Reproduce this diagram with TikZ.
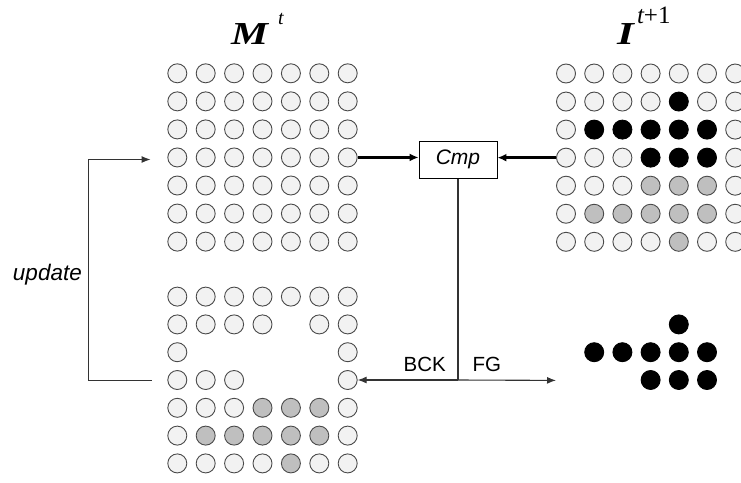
\documentclass[tikz,border=0pt]{standalone}
\usepackage{fontspec}
\setmainfont{Liberation Serif}
\setsansfont{Liberation Sans}
\usetikzlibrary{arrows.meta}
\definecolor{cellfill}{HTML}{F2F2F2}
\definecolor{cellline}{HTML}{4A4A4A}
\definecolor{cellgray}{HTML}{BFBFBF}
\definecolor{linecol}{HTML}{333333}
\newcommand\mygrid[6]{% name, x0, y0, dx, dy, spec
  \foreach \row/\spec in {#6} {%
    \foreach \kind [count=\col] in \spec {%
      \if n\kind\else
        \node[cell\kind] (#1-\row-\col) at ({#2+(\col-1)*#4},{#3+(\row-1)*#5}) {};
      \fi
    }%
  }%
}
\begin{document}
\begin{tikzpicture}[x=1pt,y=-1pt,
  cellbase/.style={circle, minimum size=19pt, inner sep=0pt, line width=0.9pt},
  cellw/.style={cellbase, draw=cellline, fill=cellfill},
  cellg/.style={cellbase, draw=cellline, fill=cellgray},
  cellk/.style={cellbase, draw=black, fill=black},
  thickarrow/.style={line width=2.6pt, draw=black, -{Latex[length=9pt,width=8pt]}},
  thinarrow/.style={line width=1.1pt, draw=linecol, -{Latex[length=9pt,width=7pt]}},
  thinline/.style={line width=1.1pt, draw=linecol},
  label/.style={font=\sffamily\fontsize{20.5}{20.5}\selectfont, inner sep=0pt},
  title/.style={inner sep=0pt, anchor=base west}
]
\useasboundingbox (0,0) rectangle (741,482);

% titles
\node[title] (Mt) at (231,44) {\scalebox{1.3}[1]{\fontsize{32}{32}\selectfont\bfseries\itshape M}\hspace{10pt}\raisebox{20pt}{\fontsize{20}{20}\selectfont\itshape t}};
\node[title] (It) at (617,44) {\scalebox{1.35}[1]{\fontsize{32}{32}\selectfont\bfseries\itshape I}\hspace{3pt}\raisebox{20.5pt}{\fontsize{25}{25}\selectfont\itshape t\upshape +1}};

% model grid M^t
\mygrid{M}{177.3}{73.3}{28.4}{28.05}{
  1/{w,w,w,w,w,w,w}, 2/{w,w,w,w,w,w,w}, 3/{w,w,w,w,w,w,w},
  4/{w,w,w,w,w,w,w}, 5/{w,w,w,w,w,w,w}, 6/{w,w,w,w,w,w,w},
  7/{w,w,w,w,w,w,w}}
% updated background grid
\mygrid{B}{177.3}{296.6}{28.4}{27.8}{
  1/{w,w,w,w,w,w,w}, 2/{w,w,w,w,n,w,w}, 3/{w,n,n,n,n,n,w},
  4/{w,w,w,n,n,n,w}, 5/{w,w,w,g,g,g,w}, 6/{w,g,g,g,g,g,w},
  7/{w,w,w,w,g,w,w}}
% image grid I^{t+1}
\mygrid{I}{566}{73.5}{28.2}{28.05}{
  1/{w,w,w,w,w,w,w}, 2/{w,w,w,w,k,w,w}, 3/{w,k,k,k,k,k,w},
  4/{w,w,w,k,k,k,w}, 5/{w,w,w,g,g,g,w}, 6/{w,g,g,g,g,g,w},
  7/{w,w,w,w,g,w,w}}
% foreground
\mygrid{F}{566}{296.6}{28.2}{27.8}{
  2/{n,n,n,n,k,n,n}, 3/{n,k,k,k,k,k,n}, 4/{n,n,n,k,k,k,n}}

% comparator
\node[draw=black, line width=0.9pt, minimum width=78pt, minimum height=37pt, inner sep=0pt,
      font=\sffamily\itshape\fontsize{21}{21}\selectfont] (cmp) at (458,159.7) {Cmp};

\draw[thickarrow] (M-4-7.east) -- (cmp.west |- M-4-7.east);
\draw[thickarrow] (I-4-1.west) -- (cmp.east |- I-4-1.west);

\coordinate (split) at (cmp.south |- B-4-7.east);
\coordinate (fgend) at (556,380.4);
\draw[thinline] (cmp.south) -- (split);
\draw[thinarrow] (split) -- (B-4-7.east);
\draw[thinarrow] (split) -- (fgend);
\node[label, anchor=base east] (bck) at (446,371.5) {BCK};
\node[label, anchor=base west] (fg) at (472.5,371.5) {FG};

% update loop
\coordinate (updstart) at (151.5,380.4);
\coordinate (updend) at (150.5,159.5);
\draw[thinarrow] (updstart) -| (88.3,159.5) -- (updend);
\node[label, font=\sffamily\itshape\fontsize{22.5}{22.5}\selectfont, anchor=base east] (upd) at (82,280) {update};
\end{tikzpicture}
\end{document}
